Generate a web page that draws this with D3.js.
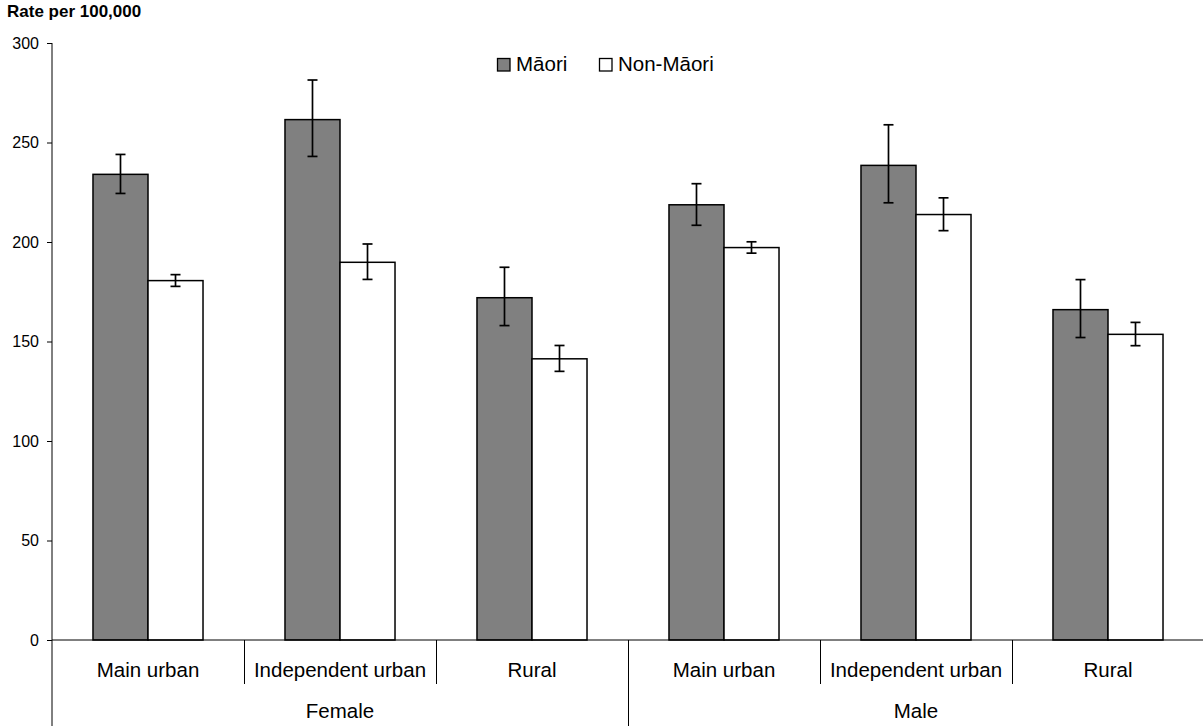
<!DOCTYPE html>
<html>
<head>
<meta charset="utf-8">
<script src="https://cdn.jsdelivr.net/npm/d3@7"></script>
<style>
  html, body { margin: 0; padding: 0; background: #fff; }
  svg { display: block; font-family: "Liberation Sans", Arial, sans-serif; }
</style>
</head>
<body>
<svg id="chart" width="1203" height="726"></svg>
<script>
// Rates per 100,000 by sex and urban/rural area, with 95% confidence intervals
const groups = ["Female", "Male"];
const areas = ["Main urban", "Independent urban", "Rural"];
const series = ["Māori", "Non-Māori"];

const maori     = [234.0, 261.5, 172.0, 218.7, 238.5, 166.0];
const maoriLow  = [224.4, 243.0, 158.0, 208.4, 219.7, 152.0];
const maoriHigh = [244.0, 281.4, 187.3, 229.3, 258.9, 181.1];

const nonMaori     = [180.6, 189.8, 141.3, 197.2, 213.8, 153.6];
const nonMaoriLow  = [177.7, 181.2, 135.0, 194.4, 205.7, 147.9];
const nonMaoriHigh = [183.6, 199.0, 148.0, 200.1, 222.2, 159.6];

const yTicks = [0, 50, 100, 150, 200, 250, 300];

// One row per group/area combination
const rows = [];
groups.forEach((g, gi) => areas.forEach((a, ai) => {
  const i = gi * areas.length + ai;
  rows.push({
    key: g + "|" + a, group: g, area: a,
    values: [
      { s: series[0], v: maori[i], lo: maoriLow[i], hi: maoriHigh[i] },
      { s: series[1], v: nonMaori[i], lo: nonMaoriLow[i], hi: nonMaoriHigh[i] }
    ]
  });
}));

const svg = d3.select("#chart");
const plotLeft = 52, plotRight = 1204, plotTop = 43, base = 640, plotBottom = 726;

const x0 = d3.scaleBand().domain(rows.map(d => d.key)).range([plotLeft, plotRight]).paddingInner(0).paddingOuter(0);
const x1 = d3.scaleBand().domain(series).range([0, x0.bandwidth()]).paddingInner(0).paddingOuter(0.745);
const y = d3.scaleLinear().domain([0, 300]).range([base, plotTop]);
const fill = d3.scaleOrdinal().domain(series).range(["#808080", "#ffffff"]);

// Bars
const g = svg.append("g");
const cat = g.selectAll("g.cat").data(rows).join("g")
  .attr("class", "cat")
  .attr("transform", d => `translate(${x0(d.key)},0)`);

cat.selectAll("rect").data(d => d.values).join("rect")
  .attr("x", d => x1(d.s))
  .attr("y", d => y(d.v))
  .attr("width", x1.bandwidth())
  .attr("height", d => y(0) - y(d.v))
  .attr("fill", d => fill(d.s))
  .attr("stroke", "#000")
  .attr("stroke-width", 1.5);

// Error bars
const capW = 10;
const eb = cat.selectAll("g.err").data(d => d.values).join("g").attr("class", "err")
  .attr("stroke", "#000").attr("stroke-width", 1.7);
eb.append("line")
  .attr("x1", d => x1(d.s) + x1.bandwidth() / 2).attr("x2", d => x1(d.s) + x1.bandwidth() / 2)
  .attr("y1", d => y(d.hi)).attr("y2", d => y(d.lo));
eb.append("line")
  .attr("x1", d => x1(d.s) + x1.bandwidth() / 2 - capW / 2).attr("x2", d => x1(d.s) + x1.bandwidth() / 2 + capW / 2)
  .attr("y1", d => y(d.hi)).attr("y2", d => y(d.hi));
eb.append("line")
  .attr("x1", d => x1(d.s) + x1.bandwidth() / 2 - capW / 2).attr("x2", d => x1(d.s) + x1.bandwidth() / 2 + capW / 2)
  .attr("y1", d => y(d.lo)).attr("y2", d => y(d.lo));

// Y axis
const yAxis = svg.append("g")
  .attr("transform", `translate(${plotLeft},0)`)
  .call(d3.axisLeft(y).tickValues(yTicks).tickSize(5).tickSizeOuter(0).tickPadding(8));
yAxis.select(".domain").remove();
yAxis.selectAll(".tick line").attr("stroke", "#000");
yAxis.selectAll(".tick text").attr("fill", "#000").attr("font-size", 16)
  .attr("font-family", "'Liberation Sans', Arial, sans-serif");
svg.append("line").attr("x1", plotLeft).attr("x2", plotLeft).attr("y1", y(300)).attr("y2", plotBottom)
  .attr("stroke", "#000").attr("stroke-width", 1);

// Category axis: baseline, separators and labels
svg.append("line").attr("x1", plotLeft).attr("x2", plotRight).attr("y1", base).attr("y2", base)
  .attr("stroke", "#000").attr("stroke-width", 1);

rows.forEach((d, i) => {
  if (i === 0) return;
  const xs = Math.round(x0(d.key)) + 0.5;
  const isGroupEdge = i % areas.length === 0;
  svg.append("line").attr("x1", xs).attr("x2", xs)
    .attr("y1", base).attr("y2", isGroupEdge ? plotBottom : base + 44)
    .attr("stroke", "#000").attr("stroke-width", 1);
});

svg.append("g").selectAll("text").data(rows).join("text")
  .attr("x", d => x0(d.key) + x0.bandwidth() / 2)
  .attr("y", 677)
  .attr("text-anchor", "middle")
  .attr("font-size", 20.5)
  .attr("fill", "#000")
  .text(d => d.area);

svg.append("g").selectAll("text").data(groups).join("text")
  .attr("x", gName => {
    const ks = rows.filter(r => r.group === gName).map(r => r.key);
    return (x0(ks[0]) + x0(ks[ks.length - 1]) + x0.bandwidth()) / 2;
  })
  .attr("y", 718)
  .attr("text-anchor", "middle")
  .attr("font-size", 20.5)
  .attr("fill", "#000")
  .text(gName => gName);

// Axis title
svg.append("text").attr("x", 7).attr("y", 17)
  .attr("font-size", 17).attr("font-weight", "bold").attr("fill", "#000")
  .text("Rate per 100,000");

// Legend
const legendX = [497, 599];
const leg = svg.append("g").selectAll("g").data(series).join("g")
  .attr("transform", (d, i) => `translate(${legendX[i]},58)`);
leg.append("rect").attr("x", 0.5).attr("y", 0.5).attr("width", 12.5).attr("height", 12.5)
  .attr("fill", d => fill(d)).attr("stroke", "#000").attr("stroke-width", 1.3);
leg.append("text").attr("x", 19).attr("y", 13)
  .attr("font-size", 20.5).attr("fill", "#000").text(d => d);
</script>
</body>
</html>
